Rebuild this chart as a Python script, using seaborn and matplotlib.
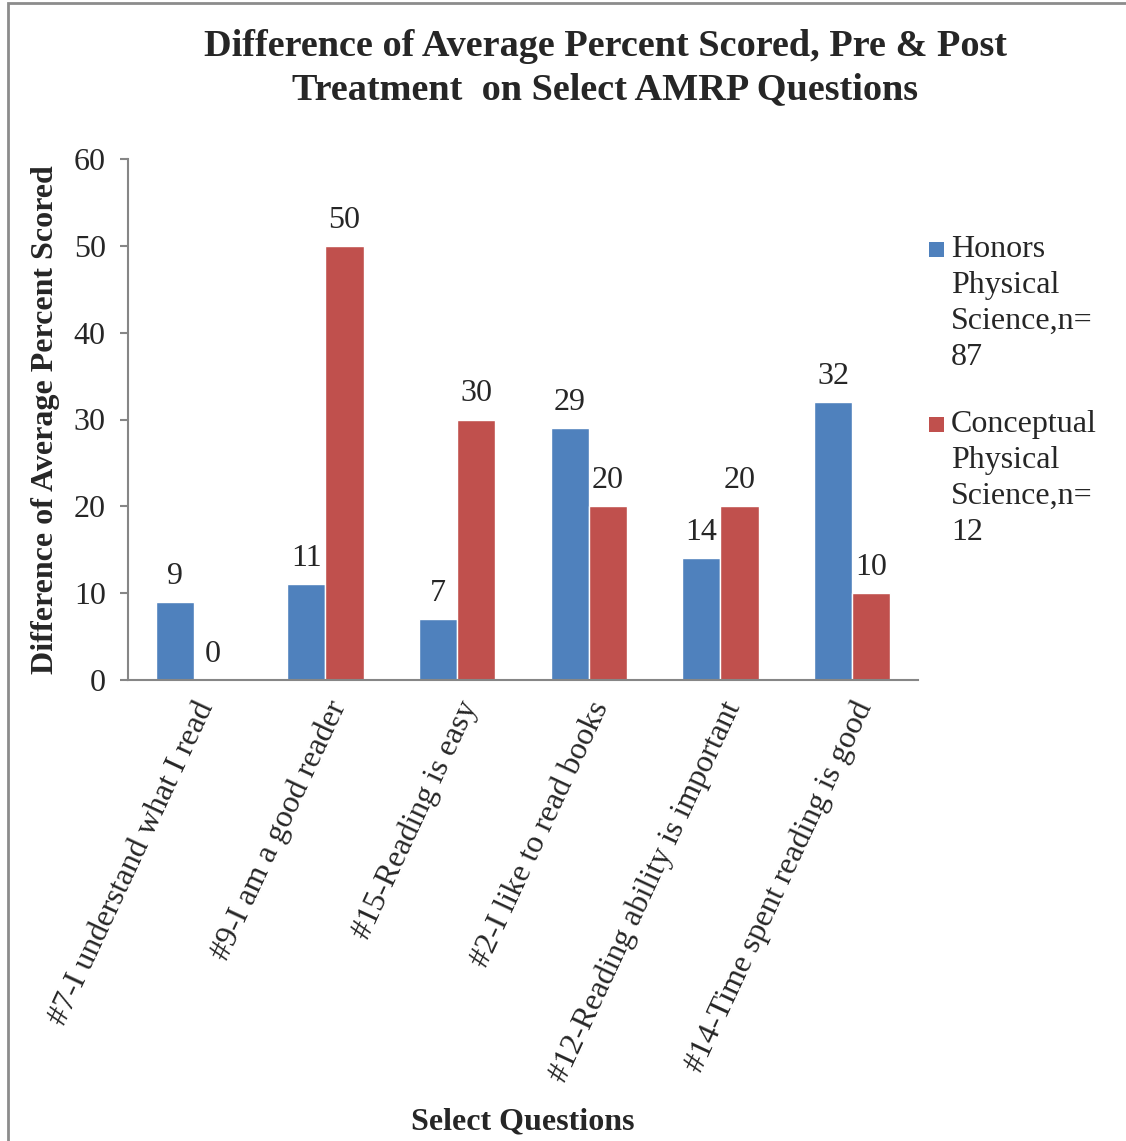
import numpy as np
import pandas as pd
import matplotlib
matplotlib.use('Agg')
import matplotlib.pyplot as plt
from matplotlib.patches import Rectangle
import seaborn as sns

# data
questions = ['#7-I understand what I read', '#9-I am a good reader', '#15-Reading is easy',
             '#2-I like to read books', '#12-Reading ability is important',
             '#14-Time spent reading is good']
honors = [9, 11, 7, 29, 14, 32]
conceptual = [0, 50, 30, 20, 20, 10]
groups = ['Honors\nPhysical\nScience,n=\n87', 'Conceptual\nPhysical\nScience,n=\n12']
colors = ['#4F81BD', '#C0504D']

df = pd.DataFrame({
    'question': questions * 2,
    'value': honors + conceptual,
    'group': [groups[0]] * len(questions) + [groups[1]] * len(questions),
})

sns.set_style('white')
plt.rcParams['font.family'] = ['Liberation Serif', 'DejaVu Serif']
fs = 23

fig = plt.figure(figsize=(11.26, 11.41), dpi=100)
ax = fig.add_axes([128 / 1126, 1 - 680 / 1141, 790 / 1126, 521 / 1141])

sns.barplot(data=df, x='question', y='value', hue='group', palette=colors,
            width=0.58, saturation=1, ax=ax, legend=False)

for c in ax.containers:
    ax.bar_label(c, labels=[f'{v:.0f}' for v in c.datavalues], padding=8, fontsize=fs)

ax.set_ylim(0, 60)
ax.set_yticks(range(0, 61, 10))
ax.set_xlim(-0.5, len(questions) - 0.5)
ax.set_xticks(range(len(questions)))
ax.set_xticks(np.arange(-0.5, len(questions), 1), minor=True)
ax.set_xticklabels(questions, rotation=65, ha='right', rotation_mode='anchor', fontsize=fs)
ax.tick_params(axis='x', which='major', length=0, pad=12)
ax.tick_params(axis='x', which='minor', length=6, color='#868686', width=1.5, direction='out')
ax.tick_params(axis='y', length=6, color='#868686', width=1.5, direction='out', labelsize=fs, pad=10)
ax.tick_params(left=True, bottom=True)

for s in ['top', 'right']:
    ax.spines[s].set_visible(False)
for s in ['left', 'bottom']:
    ax.spines[s].set_color('#868686')
    ax.spines[s].set_linewidth(1.5)

ax.set_xlabel('Select Questions', fontsize=fs, fontweight='bold')
ax.xaxis.set_label_coords(0.5, (680 - 1122) / 521)
ax.xaxis.label.set_va('center')
ax.set_ylabel('Difference of Average Percent Scored', fontsize=fs, fontweight='bold')
ax.yaxis.set_label_coords((45 - 128) / 790, 0.5)
ax.yaxis.label.set_va('center')

fig.text(605 / 1126, 1 - 68 / 1141,
         'Difference of Average Percent Scored, Pre & Post\nTreatment  on Select AMRP Questions',
         ha='center', va='center', fontsize=27.5, fontweight='bold', linespacing=1.27)

# legend, square next to the first line of each entry
leg_tops = [241, 416]
for g, col, top in zip(groups, colors, leg_tops):
    fig.patches.append(Rectangle((929 / 1126, 1 - (top + 16) / 1141), 15 / 1126, 15 / 1141,
                                 transform=fig.transFigure, facecolor=col, edgecolor='none'))
    fig.text(951 / 1126, 1 - (top - 6) / 1141, g, ha='left', va='top', fontsize=fs,
             linespacing=1.32)

fig.patches.append(Rectangle((8 / 1126, -0.1), 1.2, 1.1 - 3 / 1141, transform=fig.transFigure,
                             fill=False, edgecolor='#8c8c8c', linewidth=2))

fig.savefig('out.png', dpi=100)
